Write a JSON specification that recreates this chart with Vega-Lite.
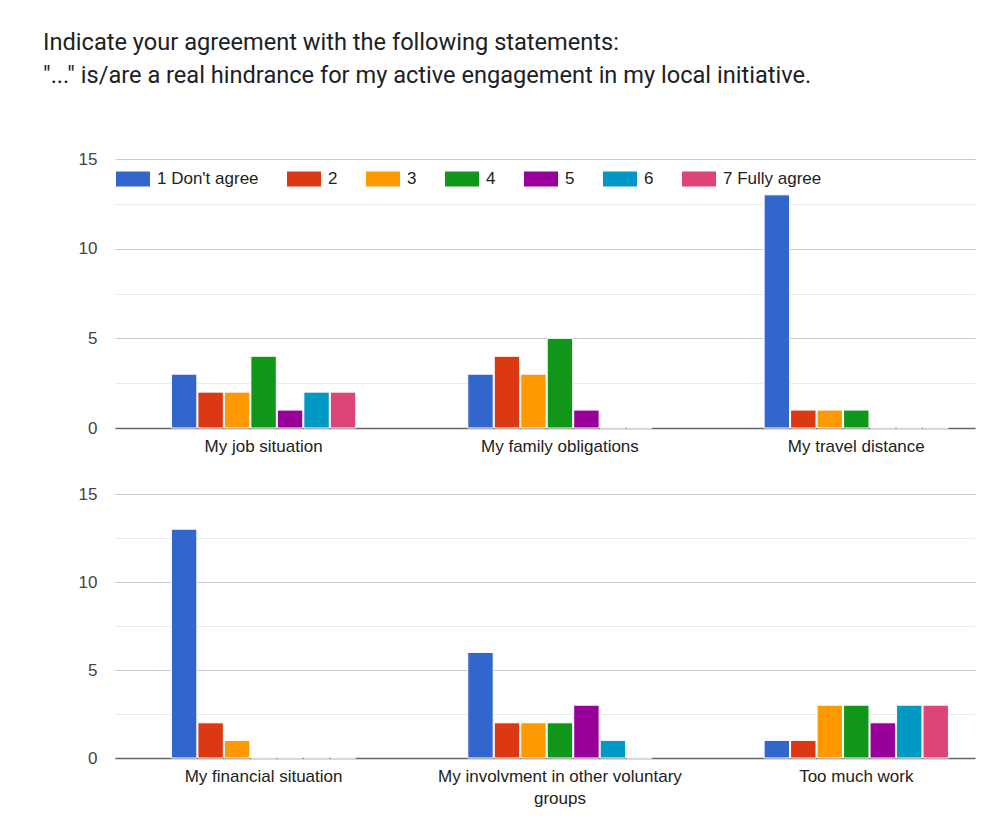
{
  "$schema": "https://vega.github.io/schema/vega-lite/v6.json",
  "background": "white",
  "padding": {"left": 43, "top": 31, "right": 20, "bottom": 5},
  "title": {
    "text": ["Indicate your agreement with the following statements:", "\"...\" is/are a real hindrance for my active engagement in my local initiative."],
    "anchor": "start",
    "frame": "bounds",
    "font": "Roboto",
    "fontSize": 23.6,
    "fontWeight": "normal",
    "color": "#202124",
    "lineHeight": 33,
    "offset": 62,
    "dx": -35
  },
  "datasets": {
    "d": [
      {"row": 1, "statement": "My job situation", "rating": "1 Don't agree", "count": 3},
      {"row": 1, "statement": "My job situation", "rating": "2", "count": 2},
      {"row": 1, "statement": "My job situation", "rating": "3", "count": 2},
      {"row": 1, "statement": "My job situation", "rating": "4", "count": 4},
      {"row": 1, "statement": "My job situation", "rating": "5", "count": 1},
      {"row": 1, "statement": "My job situation", "rating": "6", "count": 2},
      {"row": 1, "statement": "My job situation", "rating": "7 Fully agree", "count": 2},
      {"row": 1, "statement": "My family obligations", "rating": "1 Don't agree", "count": 3},
      {"row": 1, "statement": "My family obligations", "rating": "2", "count": 4},
      {"row": 1, "statement": "My family obligations", "rating": "3", "count": 3},
      {"row": 1, "statement": "My family obligations", "rating": "4", "count": 5},
      {"row": 1, "statement": "My family obligations", "rating": "5", "count": 1},
      {"row": 1, "statement": "My family obligations", "rating": "6", "count": 0},
      {"row": 1, "statement": "My family obligations", "rating": "7 Fully agree", "count": 0},
      {"row": 1, "statement": "My travel distance", "rating": "1 Don't agree", "count": 13},
      {"row": 1, "statement": "My travel distance", "rating": "2", "count": 1},
      {"row": 1, "statement": "My travel distance", "rating": "3", "count": 1},
      {"row": 1, "statement": "My travel distance", "rating": "4", "count": 1},
      {"row": 1, "statement": "My travel distance", "rating": "5", "count": 0},
      {"row": 1, "statement": "My travel distance", "rating": "6", "count": 0},
      {"row": 1, "statement": "My travel distance", "rating": "7 Fully agree", "count": 0},
      {"row": 2, "statement": "My financial situation", "rating": "1 Don't agree", "count": 13},
      {"row": 2, "statement": "My financial situation", "rating": "2", "count": 2},
      {"row": 2, "statement": "My financial situation", "rating": "3", "count": 1},
      {"row": 2, "statement": "My financial situation", "rating": "4", "count": 0},
      {"row": 2, "statement": "My financial situation", "rating": "5", "count": 0},
      {"row": 2, "statement": "My financial situation", "rating": "6", "count": 0},
      {"row": 2, "statement": "My financial situation", "rating": "7 Fully agree", "count": 0},
      {"row": 2, "statement": "My involvment in other voluntary groups", "rating": "1 Don't agree", "count": 6},
      {"row": 2, "statement": "My involvment in other voluntary groups", "rating": "2", "count": 2},
      {"row": 2, "statement": "My involvment in other voluntary groups", "rating": "3", "count": 2},
      {"row": 2, "statement": "My involvment in other voluntary groups", "rating": "4", "count": 2},
      {"row": 2, "statement": "My involvment in other voluntary groups", "rating": "5", "count": 3},
      {"row": 2, "statement": "My involvment in other voluntary groups", "rating": "6", "count": 1},
      {"row": 2, "statement": "My involvment in other voluntary groups", "rating": "7 Fully agree", "count": 0},
      {"row": 2, "statement": "Too much work", "rating": "1 Don't agree", "count": 1},
      {"row": 2, "statement": "Too much work", "rating": "2", "count": 1},
      {"row": 2, "statement": "Too much work", "rating": "3", "count": 3},
      {"row": 2, "statement": "Too much work", "rating": "4", "count": 3},
      {"row": 2, "statement": "Too much work", "rating": "5", "count": 2},
      {"row": 2, "statement": "Too much work", "rating": "6", "count": 3},
      {"row": 2, "statement": "Too much work", "rating": "7 Fully agree", "count": 3}
    ]
  },
  "spacing": 31,
  "resolve": {"scale": {"color": "shared"}},
  "vconcat": [
    {
      "width": 860,
      "height": 269,
      "data": {"name": "d"},
      "transform": [{"filter": "datum.row == 1"}],
      "mark": {"type": "bar", "stroke": "white", "strokeWidth": 1},
      "encoding": {
        "x": {
          "field": "statement", "type": "nominal",
          "sort": ["My job situation", "My family obligations", "My travel distance"],
          "scale": {"paddingInner": 0.378, "paddingOuter": 0.14, "align": 0.68},
          "axis": {"title": null}
        },
        "xOffset": {
          "field": "rating", "type": "nominal",
          "sort": ["1 Don't agree", "2", "3", "4", "5", "6", "7 Fully agree"],
          "scale": {"paddingInner": 0.04, "paddingOuter": 0}
        },
        "y": {
          "field": "count", "type": "quantitative",
          "scale": {"domain": [0, 15]},
          "axis": {
            "title": null,
            "values": [0, 2.5, 5, 7.5, 10, 12.5, 15],
            "labelOverlap": false,
            "labelExpr": "(datum.value == 0 || datum.value == 5 || datum.value == 10 || datum.value == 15) ? format(datum.value, 'd') : ''",
            "gridColor": {"condition": {"test": "datum.value == 0 || datum.value == 5 || datum.value == 10 || datum.value == 15", "value": "#cccccc"}, "value": "#ebebeb"}
          }
        },
        "color": {
          "field": "rating", "type": "nominal",
          "scale": {
            "domain": ["1 Don't agree", "2", "3", "4", "5", "6", "7 Fully agree"],
            "range": ["#3366cc", "#dc3912", "#ff9900", "#109618", "#990099", "#0099c6", "#dd4477"]
          },
          "legend": {
            "title": null,
            "orient": "none",
            "direction": "horizontal",
            "legendX": 1,
            "legendY": 3,
            "symbolType": "M-1,-0.44L1,-0.44L1,0.44L-1,0.44Z",
            "symbolSize": 1156,
            "symbolStrokeWidth": 0,
            "symbolOpacity": 1,
            "labelFont": "Liberation Sans",
            "labelFontSize": 17,
            "labelColor": "#222222",
            "labelOffset": 7,
            "columnPadding": 28
          }
        }
      }
    },
    {
      "width": 860,
      "height": 264,
      "data": {"name": "d"},
      "transform": [{"filter": "datum.row == 2"}],
      "mark": {"type": "bar", "stroke": "white", "strokeWidth": 1},
      "encoding": {
        "x": {
          "field": "statement", "type": "nominal",
          "sort": ["My financial situation", "My involvment in other voluntary groups", "Too much work"],
          "scale": {"paddingInner": 0.378, "paddingOuter": 0.14, "align": 0.68},
          "axis": {"title": null}
        },
        "xOffset": {
          "field": "rating", "type": "nominal",
          "sort": ["1 Don't agree", "2", "3", "4", "5", "6", "7 Fully agree"],
          "scale": {"paddingInner": 0.04, "paddingOuter": 0}
        },
        "y": {
          "field": "count", "type": "quantitative",
          "scale": {"domain": [0, 15]},
          "axis": {
            "title": null,
            "values": [0, 2.5, 5, 7.5, 10, 12.5, 15],
            "labelOverlap": false,
            "labelExpr": "(datum.value == 0 || datum.value == 5 || datum.value == 10 || datum.value == 15) ? format(datum.value, 'd') : ''",
            "gridColor": {"condition": {"test": "datum.value == 0 || datum.value == 5 || datum.value == 10 || datum.value == 15", "value": "#cccccc"}, "value": "#ebebeb"}
          }
        },
        "color": {
          "field": "rating", "type": "nominal",
          "legend": null
        }
      }
    }
  ],
  "config": {
    "view": {"stroke": null},
    "axisX": {
      "labelAngle": 0,
      "ticks": false,
      "domainColor": "#666666",
      "domainWidth": 1.5,
      "labelFont": "Liberation Sans",
      "labelFontSize": 17,
      "labelColor": "#222222",
      "labelPadding": 10,
      "labelLimit": 400,
      "labelLineHeight": 22,
      "labelExpr": "datum.value == 'My involvment in other voluntary groups' ? ['My involvment in other voluntary', 'groups'] : datum.label"
    },
    "axisY": {
      "domain": false,
      "ticks": false,
      "labelFlush": false,
      "labelPadding": 18,
      "labelFont": "Liberation Sans",
      "labelFontSize": 17,
      "labelColor": "#444444"
    }
  }
}
